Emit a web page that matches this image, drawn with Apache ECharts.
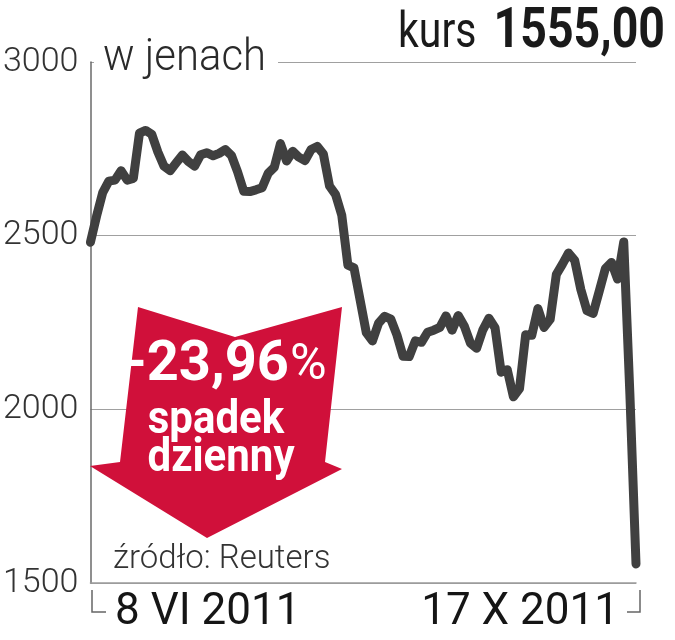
<!DOCTYPE html>
<html>
<head>
<meta charset="utf-8">
<style>
html,body{margin:0;padding:0;background:#fff;}
#chart{width:675px;height:640px;}
</style>
<script src="https://cdn.jsdelivr.net/npm/echarts@6.0.0/dist/echarts.min.js"></script>
</head>
<body>
<div id="chart"></div>
<script>
// Closing prices (JPY), 8 VI 2011 – 17 X 2011
const prices = [
  2481, 2556, 2624, 2657, 2660, 2687, 2660, 2665, 2795, 2803,
  2792, 2741, 2700, 2687, 2710, 2732, 2713, 2700, 2733, 2739,
  2730, 2737, 2748, 2731, 2684, 2628, 2627, 2632, 2638, 2680,
  2697, 2765, 2715, 2743, 2726, 2716, 2748, 2757, 2735, 2643,
  2618, 2559, 2415, 2407, 2314, 2221, 2197, 2248, 2268, 2260,
  2214, 2153, 2152, 2197, 2193, 2222, 2228, 2236, 2269, 2228,
  2270, 2239, 2190, 2176, 2228, 2262, 2235, 2107, 2114, 2036,
  2060, 2215, 2213, 2290, 2236, 2259, 2388, 2418, 2450, 2429,
  2345, 2284, 2276, 2340, 2405, 2423, 2375, 2482, 2045, 1555
];
const yTicks = [1500, 2000, 2500, 3000];
const xEndLabels = ['8 VI 2011', '17 X 2011'];
const unitLabel = 'w jenach';
const priceLabel = 'kurs';
const priceValue = '1555,00';
const changeValue = '-23,96';
const changeLines = ['spadek', 'dzienny'];
const sourceLabel = 'źródło: Reuters';

// trading-day categories
const holidays = ['2011-07-18', '2011-09-19', '2011-09-23', '2011-10-10'];
const days = [];
(function () {
  const d = new Date(Date.UTC(2011, 5, 8));
  const end = Date.UTC(2011, 9, 17);
  while (d.getTime() <= end) {
    const s = d.toISOString().slice(0, 10);
    const wd = d.getUTCDay();
    if (wd !== 0 && wd !== 6 && holidays.indexOf(s) < 0) days.push(s);
    d.setUTCDate(d.getUTCDate() + 1);
  }
})();
const categories = prices.map((_, i) => days[i] || String(i));

const chart = echarts.init(document.getElementById('chart'), null, {renderer: 'canvas'});
const RED = '#d0103a';
const option = {
  backgroundColor: '#ffffff',
  animation: false,
  grid: {left: 88, right: 39, top: 62, bottom: 57, containLabel: false},
  xAxis: {
    type: 'category',
    data: categories,
    boundaryGap: false,
    axisLine: {show: true, lineStyle: {color: '#9a9a9a', width: 1.5}},
    axisTick: {show: false},
    axisLabel: {show: false},
    splitLine: {show: false}
  },
  yAxis: {
    type: 'value',
    min: yTicks[0],
    max: yTicks[yTicks.length - 1],
    interval: 500,
    axisLine: {show: true, lineStyle: {color: '#6a6a6a', width: 1.5}},
    axisTick: {show: false},
    axisLabel: {
      show: true, margin: 12, color: '#333',
      fontFamily: 'Roboto', fontWeight: 300, fontSize: 34,
      formatter: v => String(v)
    },
    splitLine: {show: true, lineStyle: {color: '#a0a0a0', width: 1.2}}
  },
  series: [{
    type: 'line',
    data: prices,
    symbol: 'none',
    smooth: false,
    z: 5,
    lineStyle: {color: '#404040', width: 9, cap: 'round', join: 'round'}
  }],
  graphic: {
    elements: [
      // white backing behind unit label (hides the top grid line)
      {type: 'rect', z: 50, shape: {x: 94, y: 40, width: 184, height: 46}, style: {fill: '#fff'}},
      {type: 'text', z: 60, x: 103, y: 59, scaleX: 0.93,
        style: {text: unitLabel, font: '300 45px Roboto', fill: '#2a2a2a', align: 'left', verticalAlign: 'middle', textAlign: 'left', textVerticalAlign: 'middle'}},
      {type: 'text', z: 60, x: 398, y: 34, scaleX: 0.82,
        style: {text: priceLabel, font: '400 50px Roboto', fill: '#1a1a1a', align: 'left', verticalAlign: 'middle', textAlign: 'left', textVerticalAlign: 'middle'}},
      {type: 'text', z: 60, x: 665, y: 33, scaleX: 0.83,
        style: {text: priceValue, font: '700 56px Roboto', fill: '#1a1a1a', align: 'right', verticalAlign: 'middle', textAlign: 'right', textVerticalAlign: 'middle'}},
      // red arrow
      {type: 'polygon', z: 70,
        shape: {points: [[138, 307], [235, 337], [342, 307], [325, 462], [342, 469], [207, 538], [90, 466], [120, 462]]},
        style: {fill: RED}},
      {type: 'text', z: 80, x: 289, y: 366,
        style: {text: changeValue, font: '700 56px Roboto', fill: '#fff', align: 'right', verticalAlign: 'middle', textAlign: 'right', textVerticalAlign: 'middle'}},
      {type: 'text', z: 80, x: 290, y: 366,
        style: {text: '%', font: '400 50px Roboto', fill: '#fff', align: 'left', verticalAlign: 'middle', textAlign: 'left', textVerticalAlign: 'middle'}},
      {type: 'text', z: 80, x: 216, y: 422, scaleY: 1.08,
        style: {text: changeLines[0], font: '700 42px Roboto', fill: '#fff', align: 'center', verticalAlign: 'middle', textAlign: 'center', textVerticalAlign: 'middle'}},
      {type: 'text', z: 80, x: 221, y: 460, scaleY: 1.08,
        style: {text: changeLines[1], font: '700 42px Roboto', fill: '#fff', align: 'center', verticalAlign: 'middle', textAlign: 'center', textVerticalAlign: 'middle'}},
      // source
      {type: 'text', z: 60, x: 113, y: 560,
        style: {text: sourceLabel, font: '300 33px Roboto', fill: '#333', align: 'left', verticalAlign: 'middle', textAlign: 'left', textVerticalAlign: 'middle'}},
      // bottom brackets
      {type: 'polyline', z: 60, shape: {points: [[92, 590], [92, 612], [106, 612]]}, style: {stroke: '#666', lineWidth: 1.5, fill: null}},
      {type: 'polyline', z: 60, shape: {points: [[627, 612], [640, 612], [640, 590]]}, style: {stroke: '#666', lineWidth: 1.5, fill: null}},
      // date labels
      {type: 'text', z: 60, x: 115, y: 613,
        style: {text: xEndLabels[0], font: '400 44px Roboto', fill: '#151515', align: 'left', verticalAlign: 'middle', textAlign: 'left', textVerticalAlign: 'middle'}},
      {type: 'text', z: 60, x: 619, y: 613,
        style: {text: xEndLabels[1], font: '400 44px Roboto', fill: '#151515', align: 'right', verticalAlign: 'middle', textAlign: 'right', textVerticalAlign: 'middle'}}
    ]
  }
};
chart.setOption(option);
</script>
</body>
</html>
